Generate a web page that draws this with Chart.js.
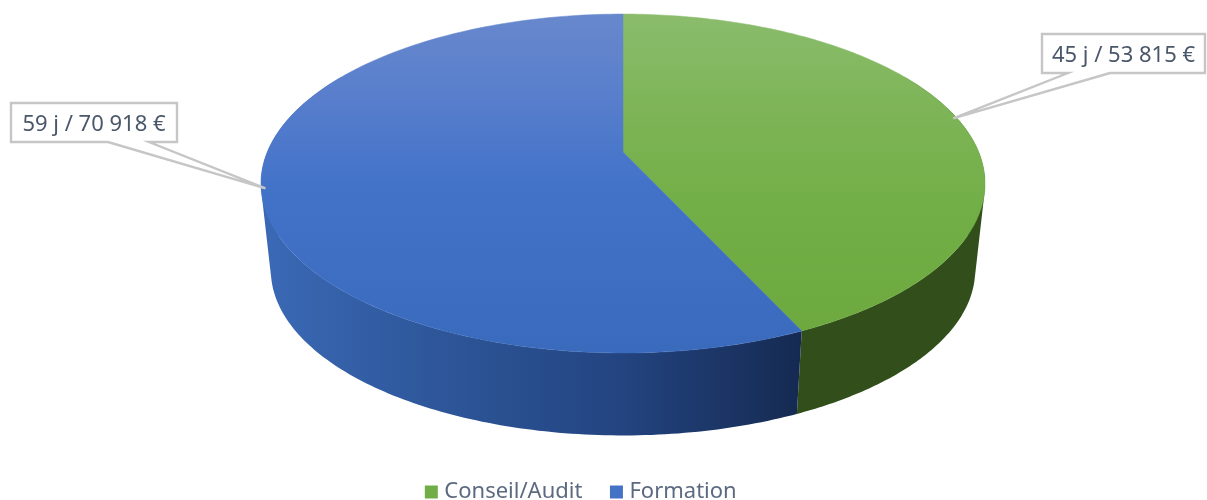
<!DOCTYPE html>
<html lang="fr">
<head>
<meta charset="utf-8">
<title>Conseil/Audit et Formation</title>
<script src="https://cdn.jsdelivr.net/npm/chart.js@4/dist/chart.umd.js"></script>
<style>
  html, body { margin: 0; padding: 0; background: #fff; }
  canvas { display: block; }
</style>
</head>
<body>
<canvas id="pie" width="1207" height="500"></canvas>
<script>
// Activity split: days sold and revenue per category.
const categories = ['Conseil/Audit', 'Formation'];
const days = [45, 59];
const revenue = [53815, 70918];
const baseColors = ['#70AD47', '#4472C4'];

// Perspective of the disc: a unit circle is projected with a vanishing term k.
const TOP_FACE = { cx: 623, cy: 152, ax: 355.7, ay: 163.6, k: -0.186 };
const BOTTOM_FACE = { cx: 623, cy: 239.5, ax: 346, ay: 159.5, k: -0.186 };

const FACE_SHADES = {
  '#70AD47': [[0, '#8ABC6C'], [0.3, '#7DB456'], [0.6, '#71AE45'], [1, '#6CA83E']],
  '#4472C4': [[0, '#6888CD'], [0.25, '#587ECC'], [0.5, '#4373C9'], [1, '#3A6ABC']]
};
const SIDE_SHADES = {
  '#70AD47': [[0, '#334F1C'], [1, '#324E1B']],
  '#4472C4': [[0, '#3A68B4'], [0.36, '#2C5496'], [0.66, '#234480'], [1, '#152A51']]
};

const FACE_TOP = 14, FACE_BOTTOM = 353, SIDE_LEFT = 271, SIDE_RIGHT = 802;
const BACK_LIMIT = Math.PI / 3;

// Angle is measured clockwise from twelve o'clock.
function project(face, theta) {
  const u = Math.sin(theta), v = -Math.cos(theta), w = 1 + face.k * v;
  return { x: face.cx + face.ax * u / w, y: face.cy + face.ay * v / w };
}

function gradient(ctx, x0, y0, x1, y1, stops) {
  const g = ctx.createLinearGradient(x0, y0, x1, y1);
  stops.forEach(s => g.addColorStop(s[0], s[1]));
  return g;
}

function tracePoints(ctx, face, from, to, steps) {
  for (let i = 0; i <= steps; i++) {
    const p = project(face, from + (to - from) * i / steps);
    ctx.lineTo(p.x, p.y);
  }
}

// The wall is swept between both rims; every strip is wound the same way
// so the union fills without seams past the silhouette.
function traceWall(ctx, from, to, steps) {
  for (let i = 0; i < steps; i++) {
    const t0 = from + (to - from) * i / steps;
    const t1 = from + (to - from) * (i + 1) / steps;
    const q = [project(TOP_FACE, t0), project(TOP_FACE, t1), project(BOTTOM_FACE, t1), project(BOTTOM_FACE, t0)];
    let area = 0;
    q.forEach((p, j) => {
      const n = q[(j + 1) % 4];
      area += p.x * n.y - n.x * p.y;
    });
    if (area < 0) q.reverse();
    ctx.moveTo(q[0].x, q[0].y);
    for (let j = 1; j < 4; j++) ctx.lineTo(q[j].x, q[j].y);
    ctx.closePath();
  }
}

// Pie slice drawn as a projected wedge with its visible wall.
class Arc3D extends Chart.ArcElement {
  static id = 'arc3d';

  draw(ctx) {
    const from = this.startAngle + Math.PI / 2;
    const to = this.endAngle + Math.PI / 2;
    const base = this.options.backgroundColor;
    const steps = 160;

    const wallFrom = Math.max(from, BACK_LIMIT);
    const wallTo = Math.min(to, 2 * Math.PI - BACK_LIMIT);
    ctx.save();
    if (wallTo > wallFrom) {
      ctx.beginPath();
      traceWall(ctx, wallFrom, wallTo, steps);
      ctx.fillStyle = gradient(ctx, SIDE_LEFT, 0, SIDE_RIGHT, 0, SIDE_SHADES[base]);
      ctx.fill();
    }
    ctx.beginPath();
    ctx.moveTo(TOP_FACE.cx, TOP_FACE.cy);
    tracePoints(ctx, TOP_FACE, from, to, steps);
    ctx.closePath();
    const face = gradient(ctx, 0, FACE_TOP, 0, FACE_BOTTOM, FACE_SHADES[base]);
    ctx.fillStyle = face;
    ctx.strokeStyle = face;
    ctx.lineWidth = 0.5;
    ctx.fill();
    ctx.stroke();
    ctx.restore();
  }
}

class Pie3DController extends Chart.PieController {
  static id = 'pie3d';
  static defaults = { dataElementType: 'arc3d' };
}

Chart.register(Arc3D, Pie3DController);

function labelText(i) {
  const euros = String(revenue[i]).replace(/\B(?=(\d{3})+$)/g, ' ');
  return days[i] + ' j / ' + euros + ' €';
}

// Boxed value labels with a wedge-shaped leader pointing at the slice rim.
const callouts = {
  id: 'callouts',
  afterDatasetsDraw(chart, args, opts) {
    const ctx = chart.ctx;
    const arcs = chart.getDatasetMeta(0).data;
    arcs.forEach((arc, i) => {
      const b = opts.boxes[i];
      const mid = (arc.startAngle + arc.endAngle) / 2 + Math.PI / 2;
      const tip = project(TOP_FACE, mid);
      const tipX = tip.x + (TOP_FACE.cx - tip.x) * 0.012;
      ctx.save();
      ctx.beginPath();
      ctx.moveTo(b.x, b.y);
      ctx.lineTo(b.x + b.w, b.y);
      ctx.lineTo(b.x + b.w, b.y + b.h);
      ctx.lineTo(b.notchB, b.y + b.h);
      ctx.lineTo(tipX, tip.y);
      ctx.lineTo(b.notchA, b.y + b.h);
      ctx.lineTo(b.x, b.y + b.h);
      ctx.closePath();
      ctx.fillStyle = '#FFFFFF';
      ctx.strokeStyle = '#C6C6C6';
      ctx.lineWidth = 2.4;
      ctx.lineJoin = 'miter';
      ctx.fill();
      ctx.stroke();
      ctx.fillStyle = '#4A576B';
      ctx.font = opts.font;
      ctx.textBaseline = 'alphabetic';
      ctx.textAlign = 'center';
      ctx.fillText(labelText(i), b.x + b.w / 2, b.y + 28);
      ctx.restore();
    });
  }
};

new Chart(document.getElementById('pie'), {
  type: 'pie3d',
  data: {
    labels: categories,
    datasets: [{ data: revenue, backgroundColor: baseColors, borderWidth: 0 }]
  },
  plugins: [callouts],
  options: {
    responsive: false,
    animation: false,
    layout: { padding: { top: 0, bottom: -13, right: 41 } },
    plugins: {
      tooltip: { enabled: false },
      legend: {
        position: 'bottom',
        labels: {
          usePointStyle: true,
          pointStyle: 'rect',
          boxWidth: 4,
          boxHeight: 13,
          padding: 32,
          color: '#5C6A80',
          font: { family: '"Noto Sans"', size: 22 }
        }
      },
      callouts: {
        font: '22px "Noto Sans"',
        boxes: [
          { x: 1042, y: 34, w: 163, h: 39, notchA: 1068, notchB: 1110 },
          { x: 11, y: 103, w: 166, h: 39, notchA: 108, notchB: 149 }
        ]
      }
    }
  }
});
</script>
</body>
</html>
